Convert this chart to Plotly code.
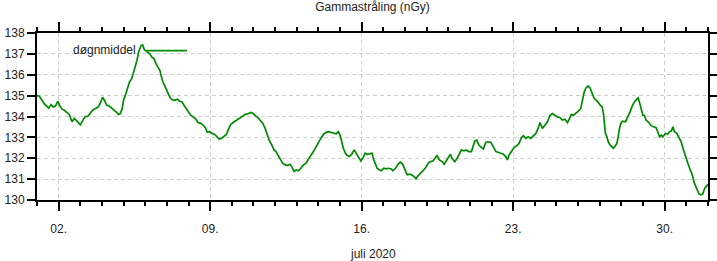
import pandas as pd
import plotly.graph_objects as go

# time offsets in days since 2020-07-01 00:00, and daily-mean gamma dose rate (nGy)
day_offset = [
    0.0, 0.11, 0.23, 0.34, 0.45, 0.54, 0.65, 0.75, 0.85, 0.96, 1.06, 1.16, 1.26, 1.37, 1.49,
    1.62, 1.72, 1.83, 1.93, 2.0, 2.11, 2.22, 2.34, 2.45, 2.57, 2.70, 2.82, 2.91, 3.03, 3.11,
    3.22, 3.34, 3.47, 3.57, 3.68, 3.77, 3.84, 3.93, 4.0, 4.11, 4.19, 4.27, 4.37, 4.47, 4.54,
    4.62, 4.70, 4.81, 4.88, 4.96, 5.08,
    5.21, 5.31, 5.41, 5.50, 5.59, 5.68, 5.75, 5.82, 5.93, 6.02, 6.10, 6.18, 6.28, 6.39, 6.48,
    6.59, 6.70, 6.79, 6.90, 7.01, 7.10, 7.21, 7.32, 7.44, 7.56, 7.67, 7.78, 7.87, 7.98, 8.09,
    8.21, 8.32, 8.41, 8.52, 8.64, 8.75, 8.83, 8.95, 9.06, 9.16, 9.29, 9.41, 9.52, 9.63, 9.75,
    9.88, 9.98, 10.09, 10.21,
    10.30, 10.43, 10.54, 10.64, 10.74, 10.85, 10.95, 11.04, 11.15, 11.26, 11.35, 11.46, 11.57,
    11.69, 11.77, 11.88, 11.97, 12.08, 12.19, 12.31, 12.43, 12.54, 12.65, 12.77, 12.89, 13.0,
    13.11, 13.23, 13.36, 13.46, 13.57, 13.69, 13.82, 13.92, 14.0, 14.08, 14.15, 14.25, 14.34,
    14.43, 14.54, 14.65, 14.74, 14.85, 14.96, 15.05, 15.16, 15.26, 15.39,
    15.48, 15.56, 15.63, 15.71, 15.82, 15.91, 16.02, 16.13, 16.25, 16.37, 16.44, 16.56, 16.68,
    16.79, 16.90, 16.99, 17.10, 17.20, 17.30, 17.41, 17.51, 17.61, 17.71, 17.82, 17.94, 18.07,
    18.18, 18.29, 18.38, 18.48, 18.59, 18.72, 18.81, 18.90, 18.99, 19.10, 19.18, 19.30, 19.41,
    19.52, 19.61, 19.72, 19.82, 19.95, 20.07, 20.23, 20.32, 20.41, 20.53, 20.62,
    20.73, 20.84, 20.97, 21.09, 21.20, 21.30, 21.43, 21.55, 21.66, 21.73, 21.81, 21.92, 22.04,
    22.17, 22.27, 22.38, 22.47, 22.58, 22.69, 22.81, 22.93, 23.05, 23.15, 23.24, 23.35, 23.46,
    23.58, 23.71, 23.81, 23.92, 24.04, 24.17, 24.27, 24.39, 24.51, 24.60, 24.69, 24.78, 24.89,
    25.0, 25.12, 25.20, 25.28, 25.36, 25.46, 25.55, 25.66, 25.74, 25.83,
    25.91, 26.02, 26.11, 26.17, 26.22, 26.26, 26.33, 26.39, 26.48, 26.57, 26.63, 26.72, 26.79,
    26.85, 26.91, 26.99, 27.06, 27.19, 27.30, 27.40, 27.50, 27.60, 27.71, 27.77, 27.83, 27.91,
    27.99, 28.06, 28.14, 28.27, 28.37, 28.48, 28.60, 28.68, 28.76, 28.84, 28.91, 29.04, 29.14,
    29.22, 29.30, 29.38, 29.45, 29.56, 29.65, 29.76, 29.87, 29.96, 30.07, 30.18, 30.27, 30.37,
    30.48, 30.58, 30.67, 30.76, 30.85, 30.94, 31.0,
]
dose_ngy = [
    135.0, 134.97, 134.78, 134.6, 134.5, 134.4, 134.57, 134.46, 134.5, 134.73, 134.5, 134.35,
    134.3, 134.2, 134.1, 133.75, 133.9, 133.8, 133.65, 133.6, 133.8, 134.0, 134.0, 134.14,
    134.3, 134.38, 134.45, 134.6, 134.92, 134.78, 134.55, 134.5, 134.4, 134.3, 134.2, 134.1,
    134.13, 134.35, 134.78, 135.1, 135.4, 135.65, 135.8, 136.1, 136.4, 136.7, 137.1, 137.4,
    137.43, 137.2, 137.08,
    137.0, 136.84, 136.76, 136.52, 136.37, 136.2, 135.9, 135.65, 135.41, 135.17, 135.0, 134.86,
    134.78, 134.78, 134.83, 134.73, 134.7, 134.54, 134.38, 134.19, 134.06, 133.98, 133.9,
    133.71, 133.67, 133.59, 133.46, 133.24, 133.27, 133.19, 133.14, 133.03, 132.92, 132.95,
    133.03, 133.14, 133.35, 133.62, 133.71, 133.78, 133.9, 133.98, 134.03, 134.1, 134.13,
    134.19, 134.14, 134.06, 133.94,
    133.83, 133.67, 133.43, 133.11, 132.83, 132.63, 132.4, 132.32, 132.08, 131.92, 131.76,
    131.68, 131.65, 131.71, 131.6, 131.37, 131.44, 131.4, 131.52, 131.68, 131.76, 131.92,
    132.13, 132.32, 132.56, 132.71, 132.95, 133.14, 133.24, 133.27, 133.24, 133.19, 133.17,
    133.27, 133.11, 132.79, 132.48, 132.24, 132.13, 132.08, 132.19, 132.4, 132.24, 132.08,
    131.87, 132.0, 132.24, 132.19, 132.24,
    132.24, 131.92, 131.68, 131.52, 131.44, 131.4, 131.52, 131.49, 131.52, 131.49, 131.4,
    131.52, 131.71, 131.81, 131.71, 131.52, 131.21, 131.24, 131.21, 131.13, 131.02, 131.17,
    131.29, 131.37, 131.52, 131.76, 131.84, 131.87, 131.97, 132.13, 131.92, 131.84, 131.71,
    131.87, 132.0, 132.19, 131.97, 131.84, 132.0, 132.19, 132.4, 132.35, 132.4, 132.32,
    132.32, 132.83, 132.87, 132.63, 132.51, 132.44,
    132.76, 132.79, 132.76, 132.51, 132.32, 132.29, 132.24, 132.19, 132.08, 131.92, 132.16,
    132.32, 132.51, 132.6, 132.71, 132.98, 133.08, 132.95, 133.03, 132.95, 133.08, 133.19,
    133.43, 133.71, 133.43, 133.56, 133.75, 134.06, 134.14, 134.06, 133.98, 133.94, 133.83,
    133.87, 133.71, 133.9, 134.1, 134.06, 134.14, 134.25, 134.38, 134.78, 135.17, 135.37,
    135.46, 135.37, 135.1, 134.86, 134.78,
    134.7, 134.54, 134.46, 134.14, 133.59, 133.19, 133.03, 132.79, 132.63, 132.56, 132.48,
    132.6, 132.71, 133.03, 133.43, 133.71, 133.78, 133.75, 133.98, 134.22, 134.51, 134.7,
    134.83, 134.89, 134.7, 134.38, 134.06, 134.06, 133.83, 133.71, 133.56, 133.51, 133.46,
    133.27, 133.03, 133.11, 133.03, 133.19, 133.16, 133.27, 133.3, 133.51, 133.27, 133.19,
    132.98, 132.79, 132.4, 132.08, 131.76, 131.44, 131.21, 130.81, 130.57, 130.29, 130.25,
    130.29, 130.57, 130.7, 130.75,
]
series_name = "døgnmiddel"
chart_title = "Gammastråling (nGy)"
x_title = "juli 2020"
y_ticks = [130, 131, 132, 133, 134, 135, 136, 137, 138]

start = pd.Timestamp("2020-07-01")
times = [start + pd.Timedelta(days=d) for d in day_offset]

FONT = "Liberation Sans, Arial, sans-serif"
GREEN = "#008a00"

fig = go.Figure()
fig.add_trace(go.Scatter(
    x=times, y=dose_ngy, mode="lines", name=series_name,
    line=dict(color=GREEN, width=1.7), showlegend=False,
))

fig.update_layout(
    width=717, height=261,
    margin=dict(l=37, r=9, t=33, b=61, autoexpand=False),
    paper_bgcolor="white", plot_bgcolor="white",
    font=dict(family=FONT, size=12, color="#222"),
    title=dict(text=chart_title, x=0.5195, xanchor="center", y=0.975, yanchor="middle",
               font=dict(size=12, color="#222")),
)

fig.update_xaxes(
    type="date", automargin=False,
    range=[start, start + pd.Timedelta(days=31)],
    tick0="2020-07-02", dtick=7 * 86400000, tickformat="%d.",
    ticks="outside", ticklen=9, tickwidth=2, tickcolor="black",
    showline=True, linewidth=2, linecolor="black", mirror="ticks",
    showgrid=True, gridcolor="#cfcfcf", griddash="4px,3px", gridwidth=1,
    zeroline=False,
    ticklabelstandoff=8,
    minor=dict(dtick=86400000, tick0="2020-07-01", ticks="outside", ticklen=4,
               tickwidth=2, tickcolor="black", showgrid=False),
)
fig.update_yaxes(
    automargin=False,
    range=[130, 138], tickvals=y_ticks,
    ticks="outside", ticklen=8, tickwidth=2, tickcolor="black",
    showline=True, linewidth=2, linecolor="black", mirror="ticks",
    showgrid=True, gridcolor="#cfcfcf", griddash="4px,3px", gridwidth=1,
    zeroline=False,
)

# legend drawn gnuplot-style: label then line sample
fig.add_annotation(text=series_name, xref="paper", yref="paper", x=0.1505, y=0.898,
                   xanchor="right", yanchor="middle", showarrow=False,
                   font=dict(size=12, color="#222"))
fig.add_shape(type="line", xref="paper", yref="paper", x0=0.1624, x1=0.2235, y0=0.894, y1=0.894,
              line=dict(color=GREEN, width=1.7))
fig.add_annotation(text=x_title, xref="paper", yref="paper", x=0.5, y=-0.323,
                   xanchor="center", yanchor="middle", showarrow=False,
                   font=dict(size=12, color="#222"))

fig.write_html("out.html")
